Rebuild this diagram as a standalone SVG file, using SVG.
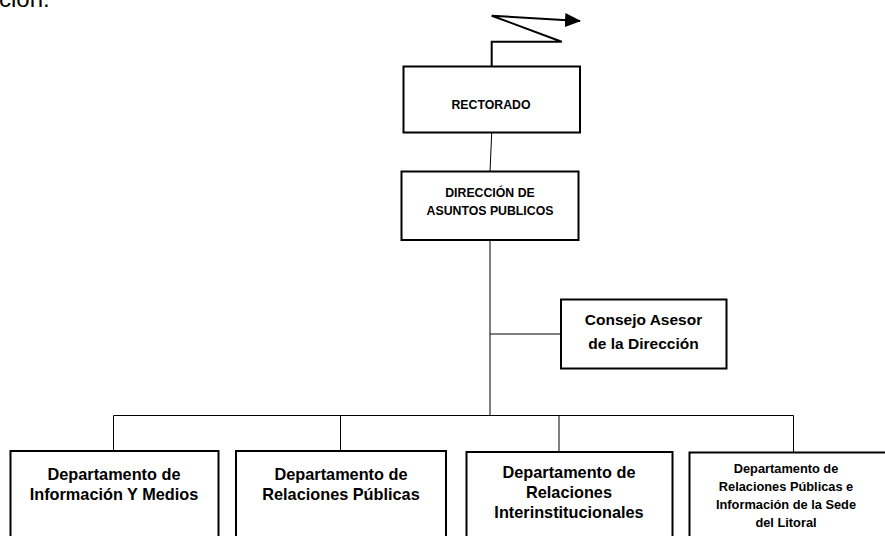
<svg xmlns="http://www.w3.org/2000/svg" width="885" height="536" viewBox="0 0 885 536">
<style>
.box{fill:#fff;stroke:#000;stroke-width:2}
.ln{fill:none;stroke:#000;stroke-width:1}
.t{font-family:"Liberation Sans",Arial,sans-serif;font-weight:bold;fill:#000;text-anchor:middle}
.s12{font-size:12.3px}
.s13{font-size:12.8px}
.s15{font-size:15.5px}
.s16{font-size:16.3px}
</style>
<defs>
<marker id="ah" markerWidth="16" markerHeight="14" refX="15" refY="7" orient="auto" markerUnits="userSpaceOnUse">
<path d="M0,0 L16,7 L0,14 z" fill="#000"/>
</marker>
</defs>
<text x="-1" y="7" style="font-family:'Liberation Sans',Arial,sans-serif;font-size:24px;fill:#000">ción:</text>
<g id="connectors">
<polyline class="ln" style="stroke-width:2" points="491.7,66 491.7,41.7 561.7,41.7 491.7,15.7 580,21" marker-end="url(#ah)"/>
<line class="ln" x1="491.7" y1="133" x2="490" y2="172"/>
<line class="ln" x1="490" y1="240" x2="490" y2="415.5"/>
<line class="ln" x1="490" y1="334" x2="561" y2="334"/>
<polyline class="ln" points="113.5,451 113.5,415.5 793.5,415.5 793.5,452"/>
<line class="ln" x1="340.5" y1="415.5" x2="340.5" y2="451"/>
<line class="ln" x1="559" y1="415.5" x2="559" y2="451"/>
</g>
<g id="rectorado">
<rect class="box" x="403.5" y="66.5" width="176.5" height="66"/>
<text class="t s12" x="491" y="109">RECTORADO</text>
</g>
<g id="direccion">
<rect class="box" x="401.5" y="171.5" width="177" height="68.5"/>
<text class="t s12" x="490" y="197">DIRECCIÓN DE</text>
<text class="t s12" x="490" y="215">ASUNTOS PUBLICOS</text>
</g>
<g id="consejo">
<rect class="box" x="561" y="299.5" width="165.5" height="69"/>
<text class="t s15" x="643.5" y="325">Consejo Asesor</text>
<text class="t s15" x="643.5" y="348.5">de la Dirección</text>
</g>
<g id="dep-info">
<rect class="box" x="10.5" y="451" width="208" height="100"/>
<text class="t s16" x="114" y="480">Departamento de</text>
<text class="t s16" x="114" y="500">Información Y Medios</text>
</g>
<g id="dep-rrpp">
<rect class="box" x="236" y="451" width="210" height="100"/>
<text class="t s16" x="341" y="480">Departamento de</text>
<text class="t s16" x="341" y="500">Relaciones Públicas</text>
</g>
<g id="dep-inter">
<rect class="box" x="466.5" y="452" width="206" height="100"/>
<text class="t s16" x="569" y="477.5">Departamento de</text>
<text class="t s16" x="569" y="497.5">Relaciones</text>
<text class="t s16" x="569" y="517.5">Interinstitucionales</text>
</g>
<g id="dep-litoral">
<rect class="box" x="689.5" y="452.5" width="205" height="100"/>
<text class="t s13" x="786" y="473">Departamento de</text>
<text class="t s13" x="786" y="491">Relaciones Públicas e</text>
<text class="t s13" x="786" y="509">Información de la Sede</text>
<text class="t s13" x="786" y="527">del Litoral</text>
</g>
</svg>
